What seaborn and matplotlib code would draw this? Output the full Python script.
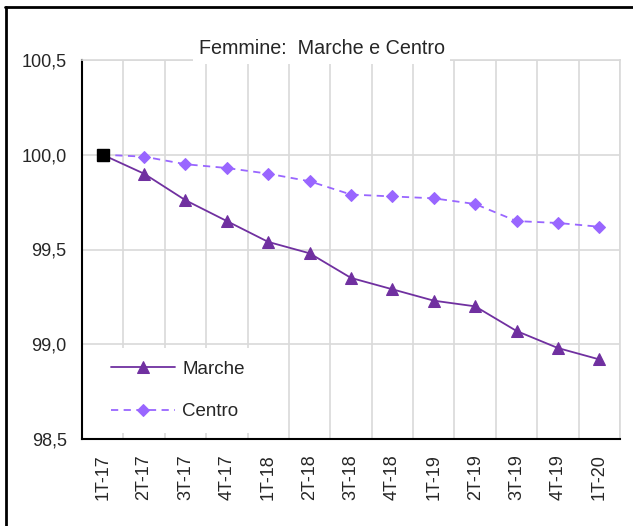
import numpy as np
import pandas as pd
import matplotlib
matplotlib.use('Agg')
import matplotlib.pyplot as plt
from matplotlib.lines import Line2D
from matplotlib.ticker import FixedLocator, FuncFormatter
import seaborn as sns

sns.set_style('white')
plt.rcParams['font.family'] = ['Liberation Sans', 'DejaVu Sans']

# --- data ---
periods = ['1T-17', '2T-17', '3T-17', '4T-17', '1T-18', '2T-18', '3T-18',
           '4T-18', '1T-19', '2T-19', '3T-19', '4T-19', '1T-20']
marche = [100.00, 99.90, 99.76, 99.65, 99.54, 99.48, 99.35,
          99.29, 99.23, 99.20, 99.07, 98.98, 98.92]
centro = [100.00, 99.99, 99.95, 99.93, 99.90, 99.86, 99.79,
          99.78, 99.77, 99.74, 99.65, 99.64, 99.62]

df = pd.DataFrame({'pos': np.arange(len(periods)), 'Marche': marche, 'Centro': centro})

fig = plt.figure(figsize=(6.33, 5.26), dpi=100)
ax = fig.add_axes([82 / 633, 1 - 439 / 526, 538 / 633, 379 / 526])

sns.lineplot(data=df, x='pos', y='Marche', ax=ax, color='#7030A0', lw=1.3,
             marker='^', markersize=8, markeredgecolor='#7030A0', label='Marche')
sns.lineplot(data=df, x='pos', y='Centro', ax=ax, color='#9966FF', lw=1.3,
             linestyle=(0, (4, 3)), marker='D', markersize=6.5,
             markeredgecolor='#9966FF', label='Centro')
# base point
ax.plot(df['pos'].iloc[0], marche[0], marker='s', color='black', markersize=8, zorder=5)

ax.set_xlim(-0.5, len(periods) - 0.5)
ax.set_ylim(98.5, 100.5)
ax.set_xticks(df['pos'])
ax.set_xticklabels(periods, rotation=90, fontsize=13)
ax.xaxis.set_minor_locator(FixedLocator(np.arange(-0.5, len(periods), 1)))
ax.tick_params(axis='x', which='major', length=0, pad=11)
ax.tick_params(axis='x', which='minor', length=5, width=1.2, color='black', direction='out')
ax.set_yticks([98.5, 99.0, 99.5, 100.0, 100.5])
ax.yaxis.set_major_formatter(FuncFormatter(lambda v, p: f'{v:.1f}'.replace('.', ',')))
ax.tick_params(axis='y', length=5, width=1.2, color='black', direction='out', labelsize=13, pad=6)
ax.set_xlabel('')
ax.set_ylabel('')

ax.grid(True, which='minor', axis='x', color='#d9d9d9', lw=1.2)
ax.grid(True, which='major', axis='y', color='#d9d9d9', lw=1.2)
ax.grid(False, which='major', axis='x')
ax.set_axisbelow(True)

for s in ['top', 'right']:
    ax.spines[s].set_color('#d9d9d9')
    ax.spines[s].set_linewidth(1.2)
for s in ['left', 'bottom']:
    ax.spines[s].set_color('black')
    ax.spines[s].set_linewidth(1.5)

ax.text(0.446, 1.03, 'Femmine:  Marche e Centro', transform=ax.transAxes, ha='center',
        va='center', fontsize=14.2,
        bbox=dict(facecolor='white', edgecolor='none', pad=4))

leg = ax.legend(loc='lower left', bbox_to_anchor=(0.012, -0.01), frameon=True, fontsize=13.5,
                handlelength=3.4, handletextpad=0.4, labelspacing=1.35, borderpad=0.7)
leg.get_frame().set_facecolor('white')
leg.get_frame().set_edgecolor('none')
leg.get_frame().set_alpha(1)

# outer frame
fig.add_artist(Line2D([5.5 / 633, 5.5 / 633], [0, 1 - 7 / 526], color='black', lw=2, transform=fig.transFigure))
fig.add_artist(Line2D([5 / 633, 1], [1 - 7 / 526, 1 - 7 / 526], color='black', lw=2, transform=fig.transFigure))

fig.savefig('out.png', dpi=100)
